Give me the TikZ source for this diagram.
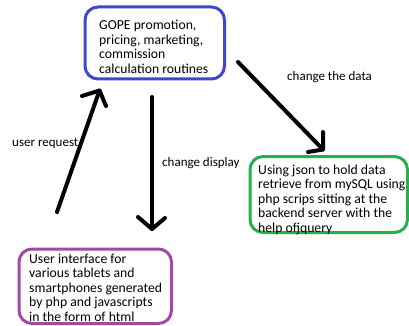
\documentclass[tikz,border=0pt]{standalone}
\usepackage{fontspec}
\setmainfont{Carlito}
\definecolor{paintblue}{RGB}{63,72,204}
\definecolor{paintgreen}{RGB}{34,177,76}
\definecolor{paintpurple}{RGB}{163,73,164}
\tikzset{
  box/.style={draw, line width=3pt, rounded corners=13pt, inner sep=0pt, fill=none},
  boxtext/.style={anchor=base west, inner sep=0pt, font=\fontsize{13.7pt}{14.5pt}\selectfont},
  lbl/.style={anchor=base west, inner sep=0pt, font=\fontsize{13pt}{14.5pt}\selectfont},
  stroke/.style={line width=4pt, line cap=round, line join=round}
}
\newcommand{\boxlines}[1]{\parbox[t]{170pt}{\raggedright #1}}
\begin{document}
\begin{tikzpicture}[x=1pt, y=-1pt]
  \useasboundingbox (0,0) rectangle (409,326);
  \fill[white] (0,0) rectangle (409,326);

  % boxes
  \node[box, draw=paintblue, minimum width=139.5pt, minimum height=72pt] (gope) at (154.75,43) {};
  \node[box, draw=paintgreen, minimum width=157.5pt, minimum height=76pt] (json) at (328.75,194.5) {};
  \node[box, draw=paintpurple, minimum width=152.5pt, minimum height=74.5pt] (ui) at (95.25,286.25) {};

  % box texts
  \node[boxtext] (gopetext) at (99,30) {\boxlines{GOPE promotion,\\pricing, marketing,\\commission\\calculation routines}};
  \node[boxtext] (jsontext) at (258,174) {\boxlines{Using json to hold data\\retrieve from mySQL using\\php scrips sitting at the\\backend server with the\\help ofjquery}};
  \node[boxtext] (uitext) at (29,263.3) {\boxlines{User interface for\\various tablets and\\smartphones generated\\by php and javascripts\\in the form of html}};

  % arrow end points
  \coordinate (reqtail) at (57,212);
  \coordinate (reqtip) at (99.5,90.5);
  \coordinate (reqarmA) at (82,96);
  \coordinate (reqarmB) at (106,106);

  \coordinate (disptail) at (152,97);
  \coordinate (disptip) at (152,229);
  \coordinate (disparmA) at (138,217);
  \coordinate (disparmB) at (165,218);

  \coordinate (datatail) at (238,62);
  \coordinate (datatip) at (323,149.5);
  \coordinate (dataarmA) at (323,132);
  \coordinate (dataarmB) at (308,152);

  % hand-drawn arrows
  \draw[stroke] (reqtail) -- (reqtip);
  \draw[stroke] (reqarmA) -- (reqtip) -- (reqarmB);
  \draw[stroke] (disptail) -- (disptip);
  \draw[stroke] (disparmA) -- (disptip) -- (disparmB);
  \draw[stroke] (datatail) -- (datatip);
  \draw[stroke] (dataarmA) -- (datatip) -- (dataarmB);

  % arrow labels
  \node[lbl] (reqlabel) at (12,146) {user request};
  \node[lbl] (displabel) at (162,166) {change display};
  \node[lbl] (datalabel) at (287,80.7) {change the data};
\end{tikzpicture}
\end{document}
